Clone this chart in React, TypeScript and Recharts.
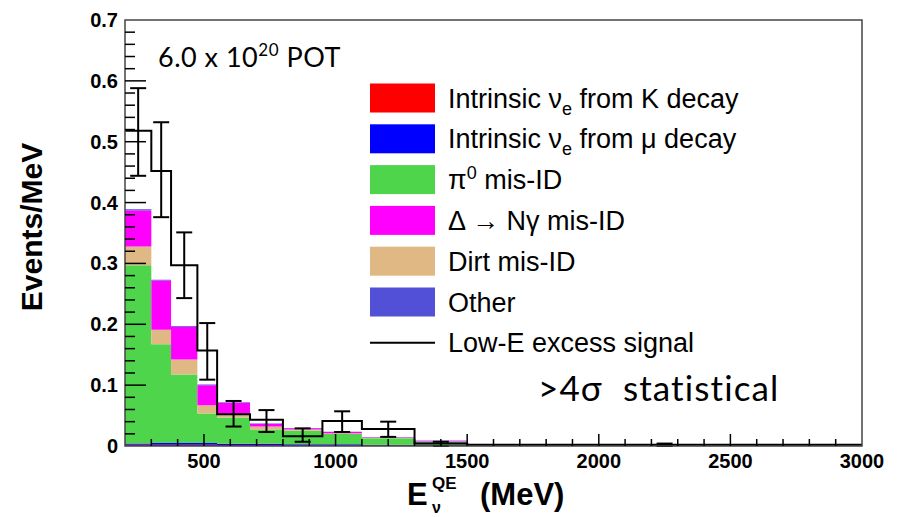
import React from 'react';
import {
  ComposedChart,
  Area,
  Line,
  Scatter,
  ErrorBar,
  XAxis,
  YAxis,
  ReferenceArea,
  ReferenceLine,
} from 'recharts';

// bin edges of the E_nu^QE histogram (MeV)
const binEdges = [200, 300, 375, 475, 550, 675, 800, 950, 1100, 1300, 1500, 3000];

// background components, events/MeV per bin (stacked bottom -> top)
const kDecay = [0.002, 0.002, 0.002, 0.002, 0.0015, 0.0015, 0.001, 0.001, 0.001, 0.001, 0.0005];
const muDecay = [0.002, 0.003, 0.003, 0.003, 0.002, 0.002, 0.002, 0.002, 0.001, 0.001, 0.0005];
const pi0MisId = [0.293, 0.162, 0.1125, 0.0486, 0.0435, 0.0235, 0.022, 0.0167, 0.0106, 0.005, 0.001];
const dirtMisId = [0.031, 0.024, 0.0245, 0.0134, 0.004, 0.005, 0.002, 0.0013, 0.0004, 0.0005, 0.0];
const deltaMisId = [0.059, 0.081, 0.054, 0.033, 0.02, 0.004, 0.002, 0.002, 0.001, 0.0012, 0.0005];
const other = [0.002, 0.001, 0.001, 0.001, 0.001, 0.001, 0.0005, 0.0005, 0.0005, 0.0005, 0.0005];

// low-E excess signal and its error band
const signal = [0.518, 0.452, 0.297, 0.157, 0.052, 0.043, 0.016, 0.041, 0.028, 0.004, 0.002];
const sigLow = [0.444, 0.376, 0.243, 0.109, 0.032, 0.023, 0.007, 0.023, 0.015, 0.0, 0.0];
const sigHigh = [0.588, 0.532, 0.351, 0.202, 0.074, 0.059, 0.029, 0.057, 0.04, 0.007, 0.004];

// axis ticks
const xMajorLabels = [500, 1000, 1500, 2000, 2500, 3000];
const yMajorLabels = [0, 0.1, 0.2, 0.3, 0.4, 0.5, 0.6, 0.7];
const xMinorStep = 100;
const yMinorStep = 0.02;

const X_MIN = 200;
const X_MAX = 3000;
const Y_MAX = 0.7;

const xTicks: number[] = [];
for (let v = 300; v <= 3000; v += xMinorStep) xTicks.push(v);
const yTicks: number[] = [];
for (let i = 0; i <= 35; i++) yTicks.push(Math.round(i * yMinorStep * 1000) / 1000);
yTicks.push(...yMajorLabels.filter((v) => !yTicks.some((t) => Math.abs(t - v) < 1e-6)));

const chartData = binEdges.map((x, i) => {
  const j = Math.min(i, signal.length - 1);
  return {
    x,
    kDecay: kDecay[j],
    muDecay: muDecay[j],
    pi0: pi0MisId[j],
    dirt: dirtMisId[j],
    delta: deltaMisId[j],
    other: other[j],
    signal: signal[j],
  };
});

const errData = signal.map((y, i) => ({
  x: (binEdges[i] + binEdges[i + 1]) / 2,
  y,
  err: [y - sigLow[i], sigHigh[i] - y],
}));

const HELV = '"Liberation Sans", Arial, Helvetica, sans-serif';
const CALI = 'Lato, "Open Sans", sans-serif';

const colors = {
  kDecay: '#ff0000',
  muDecay: '#0000ff',
  pi0: '#4fd54b',
  dirt: '#dfb884',
  delta: '#ff00ff',
  other: '#5350d8',
};

const W = 906;
const H = 517;
const MARGIN = { top: 20, right: 44, bottom: 41, left: 65 };
const PLOT_W = W - MARGIN.left - 60 - MARGIN.right;
const PLOT_H = H - MARGIN.top - MARGIN.bottom - 30;

// tick lengths in px, turned into data units for the reference-line ticks
const xPerPx = (X_MAX - X_MIN) / PLOT_W;
const yPerPx = Y_MAX / PLOT_H;

const isMajor = (v: number, labels: number[]) => labels.some((l) => Math.abs(l - v) < 1e-6);

const YTick = (props: any) => {
  const x = Number(props.x);
  const y = Number(props.y);
  const v = Number(props.payload.value);
  if (!isMajor(v, yMajorLabels)) return <g />;
  return (
    <text x={x - 7} y={y + 7} textAnchor="end" fontFamily={HELV} fontWeight="bold" fontSize={20} fill="#000">
      {v === 0 ? '0' : v.toFixed(1)}
    </text>
  );
};

const XTick = (props: any) => {
  const x = Number(props.x);
  const y = Number(props.y);
  const v = Number(props.payload.value);
  if (!isMajor(v, xMajorLabels)) return <g />;
  return (
    <text x={x} y={y + 22} textAnchor="middle" fontFamily={HELV} fontWeight="bold" fontSize={20} fill="#000">
      {v}
    </text>
  );
};

const legendRows = ['k', 'mu', 'pi0', 'delta', 'dirt', 'other', 'line'];
const legendColors: Record<string, string> = {
  k: colors.kDecay,
  mu: colors.muDecay,
  pi0: colors.pi0,
  delta: colors.delta,
  dirt: colors.dirt,
  other: colors.other,
};

const LegendText = ({ kind, x, y }: { kind: string; x: number; y: number }) => {
  const common = { x, y, fontFamily: HELV, fontSize: 27, fill: '#000' };
  switch (kind) {
    case 'k':
      return (
        <text {...common}>
          Intrinsic ν<tspan fontSize={18} dy={7}>e</tspan>
          <tspan dy={-7}> from K decay</tspan>
        </text>
      );
    case 'mu':
      return (
        <text {...common}>
          Intrinsic ν<tspan fontSize={18} dy={7}>e</tspan>
          <tspan dy={-7}> from μ decay</tspan>
        </text>
      );
    case 'pi0':
      return (
        <text {...common}>
          π<tspan fontSize={18} dy={-10}>0</tspan>
          <tspan dy={10}> mis-ID</tspan>
        </text>
      );
    case 'delta':
      return <text {...common}>Δ → Nγ mis-ID</text>;
    case 'dirt':
      return <text {...common}>Dirt mis-ID</text>;
    case 'other':
      return <text {...common}>Other</text>;
    default:
      return <text {...common}>Low-E excess signal</text>;
  }
};

const Labels = () => (
  <svg width={W} height={H} style={{ position: 'absolute', left: 0, top: 0, pointerEvents: 'none' }}>
    {/* axis titles */}
    <text
      x={42}
      y={227}
      transform="rotate(-90, 42, 227)"
      textAnchor="middle"
      fontFamily={HELV}
      fontWeight="bold"
      fontSize={30}
    >
      Events/MeV
    </text>
    <g fontFamily={HELV} fontWeight="bold">
      <text x={407} y={505} fontSize={31}>E</text>
      <text x={432} y={489} fontSize={17}>QE</text>
      <text x={432} y={513} fontSize={16}>ν</text>
      <text x={480} y={505} fontSize={31}>(MeV)</text>
    </g>

    {/* annotations */}
    <text x={158} y={67} fontFamily={CALI} fontSize={27} letterSpacing={0.5}>
      6.0 x 10<tspan fontSize={17} dy={-11}>20</tspan>
      <tspan dy={11}> POT</tspan>
    </text>
    <text x={538} y={401} fontFamily={CALI} fontSize={35} letterSpacing={1.1}>
      {'>4σ\u00a0\u00a0statistical'}
    </text>

    {/* legend */}
    {legendRows.map((k, i) => {
      const cy = 98 + i * 40.8;
      return (
        <g key={k}>
          {k === 'line' ? (
            <line x1={370} x2={435} y1={cy} y2={cy} stroke="#000" strokeWidth={2} />
          ) : (
            <rect x={370} y={cy - 14.5} width={65} height={29} fill={legendColors[k]} />
          )}
          <LegendText kind={k} x={448} y={cy + 9.5} />
        </g>
      );
    })}
  </svg>
);

export default function App() {
  return (
    <div style={{ position: 'absolute', left: 0, top: 0, width: W, height: H, background: '#fff' }}>
      {/* histograms */}
      <div style={{ position: 'absolute', left: 0, top: 0, zIndex: 1 }}>
        <ComposedChart width={W} height={H} data={chartData} margin={MARGIN}>
          <XAxis dataKey="x" type="number" domain={[X_MIN, X_MAX]} height={30} tick={false} tickLine={false} axisLine={false} />
          <YAxis type="number" domain={[0, Y_MAX]} width={60} tick={false} tickLine={false} axisLine={false} />
          <Area dataKey="kDecay" stackId="bg" type="stepAfter" fill={colors.kDecay} fillOpacity={1} stroke="none" isAnimationActive={false} />
          <Area dataKey="muDecay" stackId="bg" type="stepAfter" fill={colors.muDecay} fillOpacity={1} stroke="none" isAnimationActive={false} />
          <Area dataKey="pi0" stackId="bg" type="stepAfter" fill={colors.pi0} fillOpacity={1} stroke="none" isAnimationActive={false} />
          <Area dataKey="dirt" stackId="bg" type="stepAfter" fill={colors.dirt} fillOpacity={1} stroke="none" isAnimationActive={false} />
          <Area dataKey="delta" stackId="bg" type="stepAfter" fill={colors.delta} fillOpacity={1} stroke="none" isAnimationActive={false} />
          <Area dataKey="other" stackId="bg" type="stepAfter" fill={colors.other} fillOpacity={1} stroke="none" isAnimationActive={false} />
          <Line dataKey="signal" type="stepAfter" stroke="#000" strokeWidth={2} dot={false} isAnimationActive={false} />
          <Scatter data={errData} dataKey="y" fill="#000" shape={() => <g />} isAnimationActive={false}>
            <ErrorBar dataKey="err" direction="y" width={8} stroke="#000" strokeWidth={2} />
          </Scatter>
        </ComposedChart>
      </div>

      <div style={{ position: 'absolute', left: 0, top: 0, zIndex: 2, pointerEvents: 'none' }}>
        <Labels />
      </div>

      {/* axes, inward ticks and frame drawn on top of the histograms */}
      <div style={{ position: 'absolute', left: 0, top: 0, zIndex: 3, pointerEvents: 'none' }}>
        <ComposedChart width={W} height={H} data={chartData} margin={MARGIN}>
          <XAxis
            dataKey="x"
            type="number"
            domain={[X_MIN, X_MAX]}
            ticks={xTicks}
            interval={0}
            tickSize={0}
            tickMargin={0}
            tickLine={false}
            axisLine={false}
            height={30}
            tick={<XTick />}
          />
          <YAxis
            type="number"
            domain={[0, Y_MAX]}
            ticks={yTicks}
            interval={0}
            tickSize={0}
            tickMargin={0}
            tickLine={false}
            axisLine={false}
            width={60}
            tick={<YTick />}
          />
          <Line dataKey="signal" stroke="none" dot={false} isAnimationActive={false} />
          {yTicks
            .filter((v) => v > 0 && v < Y_MAX)
            .map((v) => (
              <ReferenceLine
                key={'yt' + v}
                segment={[
                  { x: X_MIN, y: v },
                  { x: X_MIN + (isMajor(v, yMajorLabels) ? 21 : 10) * xPerPx, y: v },
                ]}
                stroke="#000"
                strokeWidth={1.5}
                ifOverflow="visible"
              />
            ))}
          {xTicks
            .filter((v) => v < X_MAX)
            .map((v) => (
              <ReferenceLine
                key={'xt' + v}
                segment={[
                  { x: v, y: 0 },
                  { x: v, y: (isMajor(v, xMajorLabels) ? 12 : 7) * yPerPx },
                ]}
                stroke="#000"
                strokeWidth={1.5}
                ifOverflow="visible"
              />
            ))}
          <ReferenceArea x1={X_MIN} x2={X_MAX} y1={0} y2={Y_MAX} fill="none" stroke="#444" strokeWidth={1.5} ifOverflow="visible" />
        </ComposedChart>
      </div>
    </div>
  );
}
